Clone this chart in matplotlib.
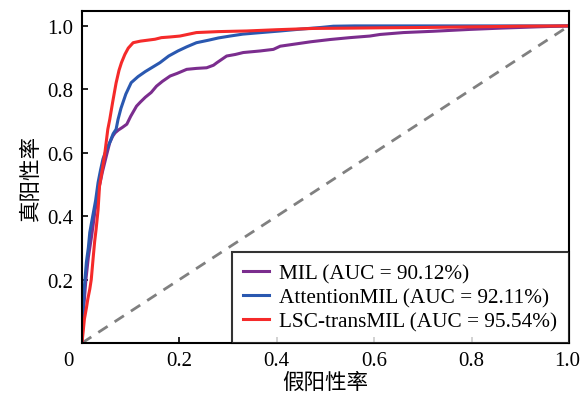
import numpy as np
import matplotlib
matplotlib.use("Agg")
import matplotlib.pyplot as plt
import matplotlib.transforms as mtrans

plt.rcParams['font.family'] = ['Liberation Serif', 'Noto Sans CJK SC']

# ROC curves
mil_fpr = [0, 0.003, 0.008, 0.013, 0.02, 0.027, 0.035, 0.042, 0.05, 0.057, 0.063, 0.068,
           0.075, 0.083, 0.092, 0.1, 0.112, 0.12, 0.13, 0.142, 0.153, 0.165, 0.181, 0.195,
           0.215, 0.235, 0.256, 0.27, 0.277, 0.297, 0.315, 0.331, 0.366, 0.393, 0.407,
           0.434, 0.47, 0.509, 0.55, 0.591, 0.612, 0.66, 0.72, 0.797, 0.86, 0.934, 1.0]
mil_tpr = [0, 0.1, 0.2, 0.27, 0.34, 0.42, 0.49, 0.54, 0.59, 0.632, 0.652, 0.663,
           0.672, 0.68, 0.69, 0.715, 0.747, 0.76, 0.775, 0.79, 0.81, 0.825, 0.842, 0.85,
           0.863, 0.866, 0.868, 0.876, 0.884, 0.905, 0.91, 0.916, 0.921, 0.926, 0.936,
           0.942, 0.95, 0.957, 0.963, 0.968, 0.973, 0.979, 0.983, 0.989, 0.993, 0.997, 1.0]

att_fpr = [0, 0.002, 0.005, 0.009, 0.013, 0.016, 0.022, 0.028, 0.033, 0.038, 0.043, 0.05,
           0.057, 0.064, 0.07, 0.074, 0.08, 0.09, 0.101, 0.115, 0.13, 0.145, 0.16, 0.178,
           0.197, 0.215, 0.235, 0.26, 0.28, 0.304, 0.33, 0.36, 0.407, 0.45, 0.49, 0.516,
           0.56, 0.612, 0.7, 0.8, 0.9, 1.0]
att_tpr = [0, 0.1, 0.18, 0.255, 0.3, 0.349, 0.4, 0.45, 0.506, 0.545, 0.58, 0.61,
           0.632, 0.66, 0.674, 0.705, 0.74, 0.785, 0.821, 0.84, 0.856, 0.87, 0.884, 0.905,
           0.921, 0.934, 0.947, 0.955, 0.962, 0.968, 0.974, 0.978, 0.984, 0.99, 0.995, 0.999,
           1.0, 1.0, 1.0, 1.0, 1.0, 1.0]

lsc_fpr = [0, 0.005, 0.009, 0.012, 0.016, 0.019, 0.023, 0.026, 0.029, 0.033, 0.036, 0.042,
           0.047, 0.053, 0.057, 0.063, 0.07, 0.076, 0.081, 0.088, 0.095, 0.105, 0.12,
           0.135, 0.15, 0.163, 0.18, 0.201, 0.235, 0.28, 0.338, 0.4, 0.475, 0.55, 0.612,
           0.7, 0.8, 0.9, 1.0]
lsc_tpr = [0, 0.076, 0.11, 0.139, 0.17, 0.2, 0.27, 0.32, 0.359, 0.42, 0.495, 0.55,
           0.6, 0.674, 0.705, 0.76, 0.82, 0.86, 0.884, 0.91, 0.93, 0.947, 0.952,
           0.955, 0.958, 0.963, 0.965, 0.968, 0.979, 0.982, 0.984, 0.988, 0.992, 0.993, 0.994,
           0.995, 0.997, 0.999, 1.0]

labels = ['MIL (AUC = 90.12%)', 'AttentionMIL (AUC = 92.11%)', 'LSC-transMIL (AUC = 95.54%)']
colors = ['#7B2D8E', '#2A58B0', '#F52A2A']

xticks = [0, 0.2, 0.4, 0.6, 0.8, 1.0]
xtick_labels = ['0', '0.2', '0.4', '0.6', '0.8', '1.0']
yticks = [0.2, 0.4, 0.6, 0.8, 1.0]
ytick_labels = ['0.2', '0.4', '0.6', '0.8', '1.0']

fig = plt.figure(figsize=(5.82, 4.02), dpi=100)
ax = fig.add_axes([82 / 582, 58 / 402, 487 / 582, 332 / 402])

ax.plot([0, 1], [0, 1], color='#808080', linestyle='--', linewidth=2, dashes=(4, 3))
for fpr, tpr, lab, c in zip([mil_fpr, att_fpr, lsc_fpr], [mil_tpr, att_tpr, lsc_tpr], labels, colors):
    ax.plot(fpr, tpr, color=c, linewidth=2.2, label=lab)

ax.set_xlim(0, 1)
ax.set_ylim(0, 1.047)
ax.set_xticks(xticks)
ax.set_xticklabels(xtick_labels)
ax.set_yticks(yticks)
ax.set_yticklabels(ytick_labels)
ax.tick_params(direction='in', length=4, width=1.2, labelsize=15, pad=6)
for s in ax.spines.values():
    s.set_linewidth(1.5)

# shift the corner labels like the original
tl = ax.get_xticklabels()
tl[0].set_transform(tl[0].get_transform() + mtrans.ScaledTranslation(-14 / 100, 0, fig.dpi_scale_trans))
tl[-1].set_transform(tl[-1].get_transform() + mtrans.ScaledTranslation(-2 / 100, 0, fig.dpi_scale_trans))

ax.set_xlabel('假阳性率', fontsize=15.5, labelpad=2)
ax.set_ylabel('真阳性率', fontsize=15.5, labelpad=4)

leg = ax.legend(loc='lower right', fontsize=15.3, frameon=True, fancybox=False, edgecolor='black',
                borderaxespad=0, handlelength=1.2, handletextpad=0.5, labelspacing=0.2,
                borderpad=0.55)
leg.get_frame().set_linewidth(1.5)

fig.savefig('out.png', dpi=100)
